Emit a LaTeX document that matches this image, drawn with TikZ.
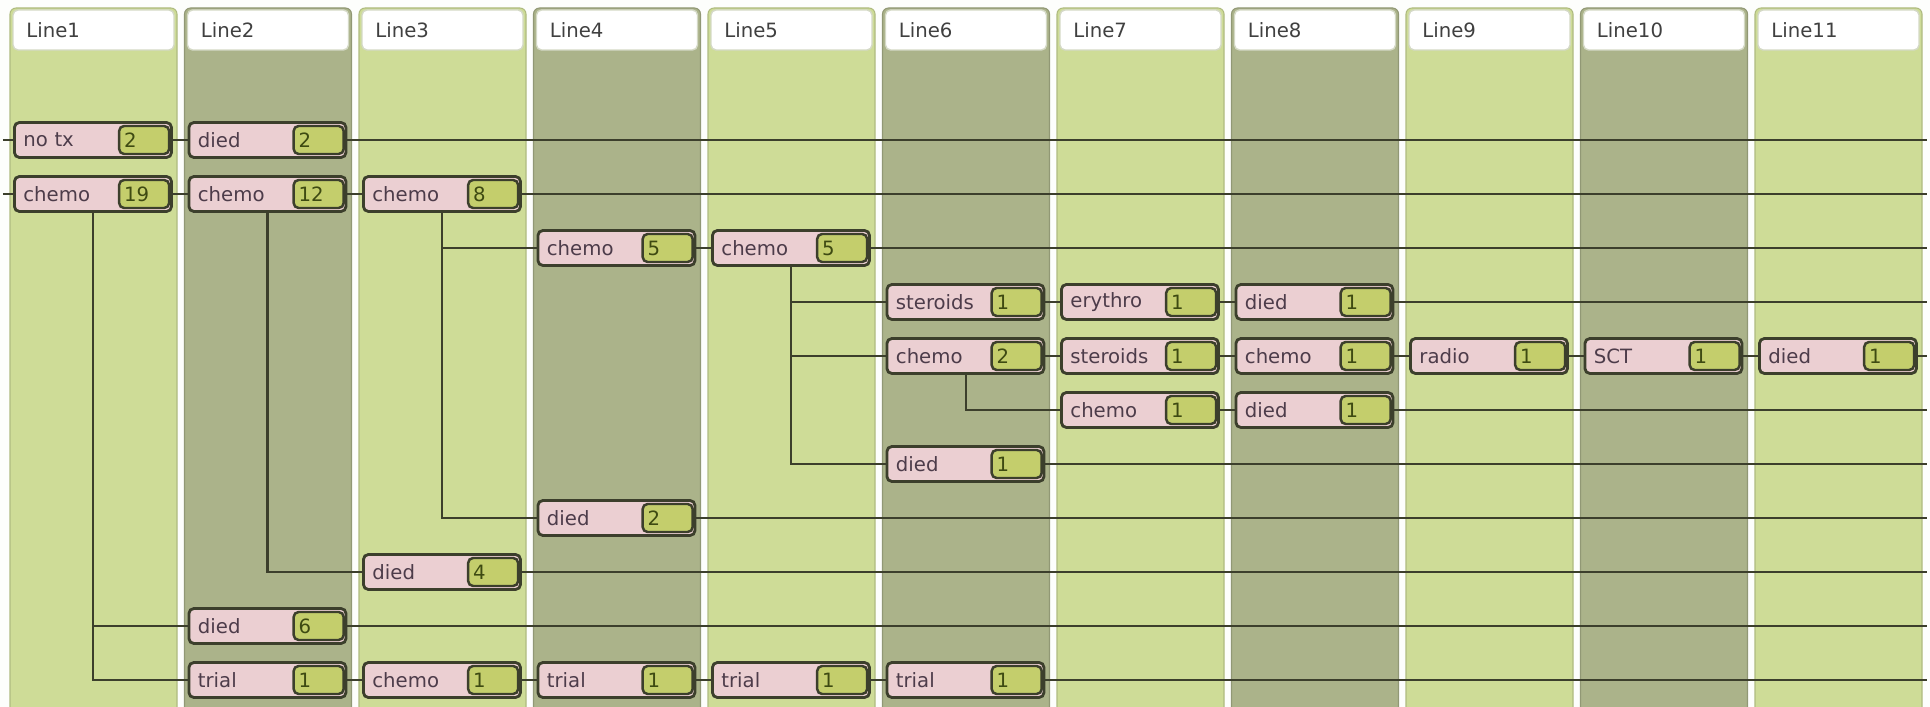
\documentclass[tikz,border=0pt]{standalone}
\usepackage{fontspec}
\setmainfont{DejaVu Sans}
\definecolor{LaneLight}{HTML}{CEDC97}
\definecolor{LaneDark}{HTML}{ABB38A}
\definecolor{StepPink}{HTML}{EBCFD2}
\definecolor{CountGreen}{HTML}{C4CE6C}
\definecolor{WireDark}{HTML}{3C3F2C}
\definecolor{RimGrey}{HTML}{C2C8AE}
\definecolor{TxtPurple}{HTML}{4D3C4A}
\definecolor{NumGreen}{HTML}{3E4A12}
\definecolor{HeadTxt}{HTML}{404040}

\begin{document}
\begin{tikzpicture}[x=0.01cm, y=-0.01cm, font=\fontsize{5.6}{7}\selectfont,
    lane/.style={fill=#1, draw=#1!85!black, line width=0.3pt, rounded corners=0.06cm},
    head/.style={fill=white, draw=RimGrey!70, line width=0.4pt, rounded corners=0.05cm},
    stepbox/.style={draw=WireDark, fill=StepPink, line width=0.8pt, rounded corners=0.05cm, anchor=west,
        text width=1.39cm, inner xsep=0.09cm, inner ysep=0pt, minimum height=0.35cm, align=left, text=TxtPurple},
    countbox/.style={draw=WireDark, fill=CountGreen, line width=0.7pt, rounded corners=0.05cm, anchor=east,
        text width=0.4cm, inner xsep=0.05cm, inner ysep=0pt, minimum height=0.28cm, align=left, text=NumGreen},
    wire/.style={draw=WireDark, line width=0.6pt}]

    \useasboundingbox (0,0) rectangle (1930,707);
    \fill[white!97!LaneLight] (0,0) rectangle (1930,707);
    \clip (0,0) rectangle (1930,707);

    \foreach \i/\shade in {1/LaneLight,2/LaneDark,3/LaneLight,4/LaneDark,5/LaneLight,6/LaneDark,
                           7/LaneLight,8/LaneDark,9/LaneLight,10/LaneDark,11/LaneLight} {
        \pgfmathsetmacro{\lx}{10+174.5*(\i-1)}
        \draw[lane=\shade] (\lx,8) rectangle ++(167,720);
        \draw[head] (\lx+3,10) rectangle ++(161,40);
        \node[anchor=west, text=HeadTxt] (h\i) at (\lx+4,30) {Line\i};
    }

    \coordinate (lim) at (3,0);
    \coordinate (rim) at (1927,0);

    \foreach \c/\r/\t/\n in {1/1/no tx/2, 2/1/died/2,
                             1/2/chemo/19, 2/2/chemo/12, 3/2/chemo/8,
                             4/3/chemo/5, 5/3/chemo/5,
                             6/4/steroids/1, 7/4/erythro/1, 8/4/died/1,
                             6/5/chemo/2, 7/5/steroids/1, 8/5/chemo/1, 9/5/radio/1, 10/5/SCT/1, 11/5/died/1,
                             7/6/chemo/1, 8/6/died/1,
                             6/7/died/1, 4/8/died/2, 3/9/died/4, 2/10/died/6,
                             2/11/trial/1, 3/11/chemo/1, 4/11/trial/1, 5/11/trial/1, 6/11/trial/1} {
        \node[stepbox] (b\c-\r) at ({13+174.5*(\c-1)}, {140+54*(\r-1)}) {\t};
        \node[countbox] (n\c-\r) at ([xshift=-0.025cm]b\c-\r.east) {\n};
    }

    \foreach \a in {1-1,1-2}
        \draw[wire] (b\a.west -| lim) -- (b\a.west);

    \foreach \a/\b in {1-1/2-1, 1-2/2-2, 2-2/3-2, 4-3/5-3, 6-4/7-4, 7-4/8-4,
                       6-5/7-5, 7-5/8-5, 8-5/9-5, 9-5/10-5, 10-5/11-5, 7-6/8-6,
                       2-11/3-11, 3-11/4-11, 4-11/5-11, 5-11/6-11}
        \draw[wire] (b\a.east) -- (b\b.west);

    \foreach \a in {2-1,3-2,5-3,8-4,11-5,8-6,6-7,4-8,3-9,2-10,6-11}
        \draw[wire] (b\a.east) -- (b\a.east -| rim);

    \foreach \a/\b in {1-2/2-10, 1-2/2-11, 2-2/3-9, 3-2/4-3, 3-2/4-8,
                       5-3/6-4, 5-3/6-5, 5-3/6-7, 6-5/7-6}
        \draw[wire] ([xshift=0.8cm]b\a.south west) |- (b\b.west);
\end{tikzpicture}
\end{document}
